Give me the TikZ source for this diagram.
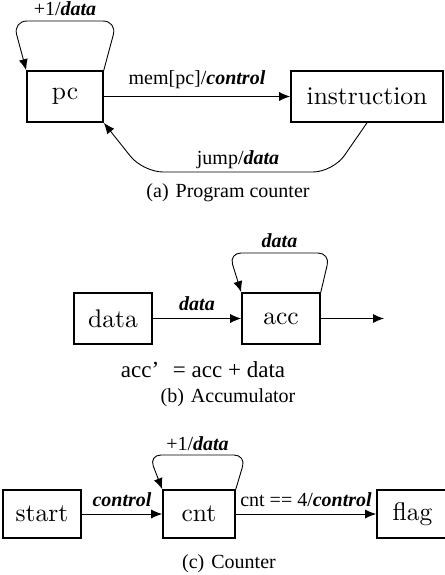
\documentclass[tikz,border=0pt]{standalone}
\usepackage{fontspec}
\newfontfamily\tms{Liberation Serif}
\newfontfamily\boxfont{lmroman10-regular}[Extension=.otf]
\usetikzlibrary{arrows.meta}
\newcommand\kw[1]{\textbf{\textit{#1}}}
\tikzset{
  block/.style={draw, line width=1.6pt, inner sep=0pt, minimum height=51pt,
    font=\boxfont\fontsize{25.5}{30}\selectfont},
  flow/.style={-{Latex[length=11pt,width=9pt]}, line width=0.9pt},
  lbl/.style={font=\tms\fontsize{20}{24}\selectfont, inner sep=0pt},
  captext/.style={font=\tms\fontsize{20}{24}\selectfont, inner sep=0pt},
  eqn/.style={font=\tms\fontsize{23}{27}\selectfont, inner sep=0pt},
}
\begin{document}
\begin{tikzpicture}[x=1pt,y=-1pt]
\useasboundingbox (0,0) rectangle (444,575);

% (a) program counter
\node[block, minimum width=76pt] (pc) at (65,96.5) {pc};
\node[block, minimum width=152pt] (ins) at (367,96.5) {instruction};
\draw[flow] (pc) -- node[lbl, yshift=17pt] {mem[pc]/\kw{control}} (ins);
\draw[flow, rounded corners=14pt] (pc.north east) -- (117,21)
  -- node[lbl, yshift=12pt] {+1/\kw{data}} (13,21) -- (pc.north west);
\draw[flow, rounded corners=20pt] (ins.south) -- (333,172)
  -- node[lbl, yshift=12pt] {jump/\kw{data}} (143,172) -- (pc.south east);
\node[captext] (capa) at (228,193) {(a)\hspace{0.35em}Program counter};

% (b) accumulator
\node[block, minimum width=78pt] (dat) at (113,318.5) {data};
\node[block, minimum width=78pt] (acc) at (281,318.5) {acc};
\coordinate (out) at (384,318.5);
\draw[flow] (dat) -- node[lbl, yshift=15pt] {\kw{data}} (acc);
\draw[flow] (acc) -- (out);
\draw[flow, rounded corners=12pt] (acc.north east) -- (330,253)
  -- node[lbl, yshift=12pt] {\kw{data}} (229,253) -- (acc.north west);
\node[eqn] (rule) at (203,370) {acc’\hspace{0.6em}= acc + data};
\node[captext] (capb) at (228,398) {(b)\hspace{0.35em}Accumulator};

% (c) counter
\node[block, minimum width=78pt, minimum height=48pt] (st) at (42,514) {start};
\node[block, minimum width=72pt, minimum height=48pt] (cnt) at (199,514) {cnt};
\node[block, minimum width=71pt, minimum height=48pt] (flag) at (412.5,514) {flag};
\draw[flow] (st) -- node[lbl, yshift=14pt] {\kw{control}} (cnt);
\draw[flow] (cnt) -- node[lbl, yshift=14pt] {cnt == 4/\kw{control}} (flag);
\draw[flow, rounded corners=12pt] (cnt.north east) -- (246,455)
  -- node[lbl, yshift=11pt] {+1/\kw{data}} (149,455) -- (cnt.north west);
\node[captext] (capc) at (229,564) {(c)\hspace{0.35em}Counter};
\end{tikzpicture}
\end{document}
